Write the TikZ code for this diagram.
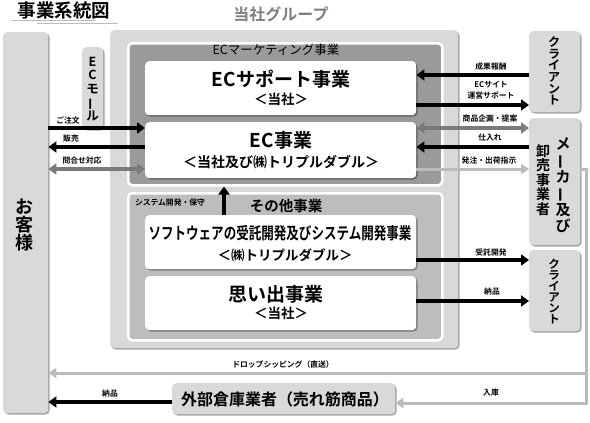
\documentclass[tikz,border=0pt]{standalone}
\usepackage{fontspec}
\usepackage{graphicx}
\setmainfont{Noto Sans CJK JP}[BoldFont={Noto Sans CJK JP Bold}]
\usetikzlibrary{arrows.meta,shadows}
\definecolor{lgray}{HTML}{D9D9D9}
\definecolor{mkt}{HTML}{9A9A9A}
\definecolor{oth}{HTML}{BDBDBD}
\definecolor{garrow}{HTML}{7A7A7A}
\definecolor{larrowc}{HTML}{BBBBBB}
\definecolor{titlegray}{HTML}{7F7F7F}
\newcommand{\vbar}{\rotatebox[origin=c]{90}{ー}}
\tikzset{
  shad/.style={drop shadow={shadow xshift=1.3pt,shadow yshift=-1.3pt,opacity=0.35,fill=black}},
  gbox/.style={fill=lgray, rounded corners=4pt, draw=none, shad, anchor=north west, inner sep=0pt},
  wbox/.style={fill=white, rounded corners=4pt, draw=none, shad, anchor=north west, inner sep=0pt},
  panel/.style={draw=white, line width=2.5pt, rounded corners=4pt, anchor=north west, inner sep=0pt},
  lbl/.style={font=\bfseries\fontsize{7.8}{9}\selectfont, inner sep=0pt},
  big/.style={font=\bfseries\fontsize{19}{21}\selectfont, inner sep=0pt},
  sub/.style={font=\bfseries\fontsize{13.5}{15}\selectfont, inner sep=0pt},
  vt/.style={align=center, inner sep=0pt},
  barrow/.style={line width=3.6pt, -{Triangle[length=8pt,width=11pt]}},
  garr/.style={line width=3.6pt, draw=garrow, {Triangle[length=8pt,width=11pt]}-{Triangle[length=8pt,width=11pt]}},
  larr/.style={line width=3pt, draw=larrowc, -{Triangle[length=8pt,width=10pt]}},
}
\begin{document}
\begin{tikzpicture}[x=1pt,y=-1pt]
\useasboundingbox (0,0) rectangle (590,423);
% title
\node[font=\bfseries\fontsize{18.5}{20}\selectfont, inner sep=0pt] (title) at (64,10) {事業系統図};
\draw[larrowc, line width=0.8pt] (12,20) -- (95,20);
\draw[larrowc, line width=0.8pt] (37,23) -- (118,23);
\node[font=\bfseries\fontsize{16}{18}\selectfont, text=titlegray, inner sep=0pt] (grp) at (281,14) {当社グループ};
% left customer box
\node[gbox, minimum width=45pt, minimum height=381pt] (kyaku) at (3,32) {};
\node[vt, font=\bfseries\fontsize{18}{18}\selectfont] at (25,225) {お\\客\\様};
% group outer box
\node[gbox, minimum width=348pt, minimum height=318pt] (group) at (110,30) {};
\node[panel, fill=mkt, minimum width=314pt, minimum height=142pt] (ecm) at (127,42) {};
\node[panel, fill=oth, minimum width=314pt, minimum height=147pt] (oth) at (127,192) {};
\node[font=\fontsize{12.5}{14}\selectfont, inner sep=0pt] at (276,50) {ECマーケティング事業};
% white boxes
\node[wbox, minimum width=271pt, minimum height=54pt] (ecs) at (145,61) {};
\node[big] at (281,79) {ECサポート事業};
\node[sub] at (281,99) {＜当社＞};
\node[wbox, minimum width=271pt, minimum height=56pt] (ecj) at (145,122) {};
\node[big] at (281,140) {EC事業};
\node[sub, font=\bfseries\fontsize{14}{15}\selectfont] at (281,162) {＜当社及び㈱トリプルダブル＞};
\node[lbl] at (170,203) {システム開発・保守};
\node[font=\bfseries\fontsize{14.5}{16}\selectfont, inner sep=0pt] at (286,206) {その他事業};
\node[wbox, minimum width=271pt, minimum height=54pt] (soft) at (145,215) {};
\node[font=\bfseries\fontsize{16.5}{18}\selectfont, inner sep=0pt] at (280,233) {\scalebox{0.76}[1]{ソフトウェアの受託開発及びシステム開発事業}};
\node[sub] at (285,255) {＜㈱トリプルダブル＞};
\node[wbox, minimum width=271pt, minimum height=54pt] (omo) at (145,276) {};
\node[big] at (276,294) {思い出事業};
\node[sub] at (281,313) {＜当社＞};
% EC mall
\node[gbox, minimum width=21pt, minimum height=82pt] (mall) at (82,47) {};
\node[vt, font=\bfseries\fontsize{12.5}{13.6}\selectfont] at (92.5,89) {E\\C\\モ\\\vbar\\ル};
% right boxes
\node[gbox, minimum width=51pt, minimum height=81pt] (cl1) at (529,31) {};
\node[vt, font=\bfseries\fontsize{12}{11.6}\selectfont] at (554,71) {ク\\ラ\\イ\\ア\\ン\\ト};
\node[gbox, minimum width=51pt, minimum height=127pt] (maker) at (529,118) {};
\node[vt, font=\bfseries\fontsize{15}{16}\selectfont, anchor=north] at (563,137) {メ\\\vbar\\カ\\\vbar\\及\\び};
\node[vt, font=\bfseries\fontsize{14}{14.6}\selectfont, anchor=north] at (543,144) {卸\\売\\事\\業\\者};
\node[gbox, minimum width=51pt, minimum height=81pt] (cl2) at (529,250) {};
\node[vt, font=\bfseries\fontsize{11.5}{11}\selectfont] at (554,291) {ク\\ラ\\イ\\ア\\ン\\ト};
% warehouse
\node[gbox, minimum width=223pt, minimum height=31pt] (souko) at (172,383) {};
\node[font=\bfseries\fontsize{16}{18}\selectfont, inner sep=0pt] at (285,399) {外部倉庫業者（売れ筋商品）};
% left arrows
\draw[barrow] (kyaku.east |- 0,128) -- (ecj.west |- 0,128);
\node[lbl] at (68,120) {ご注文};
\draw[barrow] (ecj.west |- 0,147) -- (kyaku.east |- 0,147);
\node[lbl] at (71,139) {販売};
\draw[garr] (kyaku.east |- 0,169) -- (ecj.west |- 0,169);
\node[lbl] at (82,161) {問合せ対応};
% up arrow
\draw[barrow] (soft.north -| 224,0) -- (ecm.south -| 224,0);
% right arrows
\draw[barrow] (cl1.west |- 0,75) -- (ecs.east |- 0,75);
\node[lbl] at (491,67) {成果報酬};
\draw[barrow] (ecs.east |- 0,105) -- (cl1.west |- 0,105);
\node[lbl, align=center, font=\bfseries\fontsize{7.8}{11}\selectfont] at (491,90.5) {ECサイト\\運営サポート};
\draw[garr] (ecj.east |- 0,128) -- (maker.west |- 0,128);
\node[lbl] at (490,119) {商品企画・提案};
\draw[barrow] (maker.west |- 0,147) -- (ecj.east |- 0,147);
\node[lbl] at (490,138) {仕入れ};
\draw[larr] (ecj.east |- 0,169) -- (maker.west |- 0,169);
\node[lbl] at (489,161) {発注・出荷指示};
\draw[barrow] (soft.east |- 0,260) -- (cl2.west |- 0,260);
\node[lbl] at (491,253) {受託開発};
\draw[barrow] (omo.east |- 0,301) -- (cl2.west |- 0,301);
\node[lbl] at (492,292) {納品};
% drop shipping
\coordinate (ds1) at (586,169);
\coordinate (ds2) at (586,373);
\coordinate (ds3) at (586,403);
\draw[larr] (maker.east |- ds1) -- (ds1) -- (ds2) -- (kyaku.east |- ds2);
\node[lbl] at (283,365) {ドロップシッピング（直送）};
\draw[larr] (ds2) -- (ds3) -- (souko.east |- ds3);
\node[lbl] at (491,393) {入庫};
\draw[barrow] (souko.west |- 0,402) -- (kyaku.east |- 0,402);
\node[lbl] at (110,394) {納品};
\end{tikzpicture}
\end{document}
